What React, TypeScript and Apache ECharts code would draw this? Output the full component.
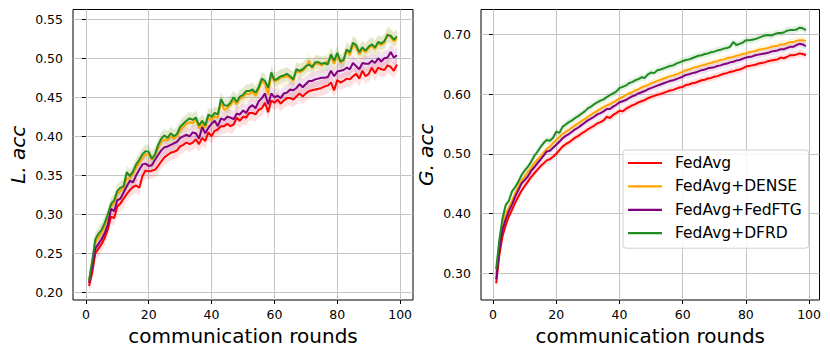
import React, { useEffect, useRef } from "react";
import * as echarts from "echarts";

const rounds: number[] = Array.from({ length: 99 }, (_, i) => i + 1);
const methodNames = ["FedAvg", "FedAvg+DENSE", "FedAvg+FedFTG", "FedAvg+DFRD"];
const methodColors = ["#ff0000", "#ffa500", "#800080", "#228b22"];
const xTicks = [0, 20, 40, 60, 80, 100];
const localTicks = [0.2, 0.25, 0.3, 0.35, 0.4, 0.45, 0.5, 0.55];
const globalTicks = [0.3, 0.4, 0.5, 0.6, 0.7];

// L. acc
const localFedAvg = [
  0.208, 0.225, 0.250, 0.256, 0.262, 0.270, 0.281, 0.297, 0.295, 0.310,
  0.314, 0.320, 0.326, 0.331, 0.335, 0.337, 0.334, 0.349, 0.356, 0.355,
  0.356, 0.357, 0.362, 0.368, 0.373, 0.376, 0.379, 0.380, 0.382, 0.387,
  0.389, 0.392, 0.390, 0.392, 0.396, 0.390, 0.398, 0.394, 0.405, 0.400,
  0.407, 0.409, 0.413, 0.413, 0.416, 0.413, 0.415, 0.424, 0.420, 0.425,
  0.424, 0.430, 0.430, 0.428, 0.434, 0.436, 0.443, 0.431, 0.446, 0.443,
  0.447, 0.442, 0.446, 0.449, 0.449, 0.447, 0.451, 0.455, 0.451, 0.455,
  0.458, 0.459, 0.460, 0.461, 0.462, 0.464, 0.465, 0.469, 0.459, 0.472,
  0.469, 0.471, 0.474, 0.473, 0.477, 0.480, 0.474, 0.484, 0.477, 0.480,
  0.488, 0.481, 0.488, 0.486, 0.485, 0.491, 0.489, 0.484, 0.492,
];
const localDense = [
  0.214, 0.238, 0.264, 0.270, 0.276, 0.285, 0.296, 0.310, 0.314, 0.326,
  0.330, 0.333, 0.346, 0.346, 0.352, 0.360, 0.366, 0.372, 0.377, 0.376,
  0.370, 0.375, 0.385, 0.393, 0.396, 0.395, 0.400, 0.397, 0.400, 0.408,
  0.412, 0.416, 0.418, 0.417, 0.421, 0.410, 0.416, 0.411, 0.424, 0.421,
  0.426, 0.424, 0.444, 0.434, 0.436, 0.440, 0.446, 0.441, 0.448, 0.450,
  0.455, 0.454, 0.457, 0.452, 0.460, 0.470, 0.468, 0.453, 0.479, 0.470,
  0.472, 0.475, 0.476, 0.477, 0.475, 0.471, 0.484, 0.482, 0.484, 0.488,
  0.497, 0.487, 0.493, 0.493, 0.491, 0.494, 0.496, 0.502, 0.493, 0.505,
  0.494, 0.497, 0.512, 0.504, 0.517, 0.514, 0.505, 0.511, 0.508, 0.513,
  0.516, 0.512, 0.519, 0.517, 0.520, 0.531, 0.527, 0.522, 0.525,
];
const localFedFTG = [
  0.212, 0.232, 0.256, 0.262, 0.268, 0.276, 0.287, 0.307, 0.304, 0.318,
  0.320, 0.328, 0.336, 0.343, 0.341, 0.350, 0.357, 0.364, 0.365, 0.362,
  0.363, 0.370, 0.376, 0.382, 0.386, 0.387, 0.389, 0.391, 0.393, 0.398,
  0.400, 0.402, 0.400, 0.405, 0.404, 0.397, 0.412, 0.404, 0.411, 0.416,
  0.420, 0.413, 0.423, 0.421, 0.425, 0.424, 0.422, 0.429, 0.428, 0.433,
  0.430, 0.437, 0.440, 0.436, 0.445, 0.449, 0.455, 0.441, 0.455, 0.450,
  0.452, 0.449, 0.455, 0.456, 0.460, 0.459, 0.462, 0.467, 0.463, 0.467,
  0.471, 0.471, 0.473, 0.474, 0.475, 0.475, 0.476, 0.484, 0.477, 0.483,
  0.484, 0.485, 0.488, 0.486, 0.494, 0.490, 0.486, 0.494, 0.493, 0.493,
  0.497, 0.494, 0.500, 0.496, 0.500, 0.501, 0.508, 0.501, 0.504,
];
const localDFRD = [
  0.215, 0.240, 0.268, 0.275, 0.280, 0.289, 0.300, 0.313, 0.318, 0.330,
  0.334, 0.336, 0.354, 0.349, 0.355, 0.364, 0.370, 0.377, 0.381, 0.380,
  0.371, 0.377, 0.389, 0.397, 0.401, 0.398, 0.404, 0.400, 0.403, 0.412,
  0.416, 0.420, 0.423, 0.421, 0.424, 0.414, 0.420, 0.414, 0.428, 0.425,
  0.430, 0.428, 0.448, 0.440, 0.439, 0.443, 0.450, 0.444, 0.451, 0.453,
  0.458, 0.458, 0.460, 0.456, 0.463, 0.474, 0.471, 0.462, 0.482, 0.472,
  0.474, 0.477, 0.478, 0.480, 0.477, 0.473, 0.486, 0.484, 0.486, 0.490,
  0.492, 0.489, 0.495, 0.495, 0.493, 0.494, 0.492, 0.505, 0.497, 0.507,
  0.496, 0.498, 0.511, 0.508, 0.520, 0.517, 0.508, 0.514, 0.510, 0.515,
  0.518, 0.514, 0.521, 0.519, 0.522, 0.530, 0.529, 0.524, 0.528,
];
const localStd = [0.01, 0.011, 0.01, 0.009];

// G. acc
const globalFedAvg = [
  0.283, 0.330, 0.362, 0.380, 0.395, 0.406, 0.418, 0.428, 0.438, 0.446,
  0.453, 0.461, 0.467, 0.473, 0.479, 0.484, 0.489, 0.491, 0.495, 0.500,
  0.506, 0.512, 0.516, 0.519, 0.523, 0.527, 0.530, 0.534, 0.537, 0.541,
  0.544, 0.547, 0.551, 0.553, 0.556, 0.562, 0.560, 0.565, 0.568, 0.572,
  0.571, 0.575, 0.578, 0.581, 0.583, 0.586, 0.588, 0.590, 0.593, 0.595,
  0.597, 0.599, 0.600, 0.602, 0.604, 0.606, 0.607, 0.609, 0.611, 0.612,
  0.615, 0.616, 0.618, 0.619, 0.621, 0.623, 0.624, 0.626, 0.627, 0.629,
  0.630, 0.632, 0.634, 0.635, 0.637, 0.638, 0.640, 0.641, 0.643, 0.646,
  0.647, 0.648, 0.649, 0.651, 0.652, 0.653, 0.655, 0.656, 0.657, 0.658,
  0.661, 0.660, 0.662, 0.665, 0.665, 0.666, 0.668, 0.667, 0.665,
];
const globalDense = [
  0.300, 0.350, 0.381, 0.400, 0.410, 0.421, 0.434, 0.445, 0.455, 0.462,
  0.470, 0.476, 0.484, 0.490, 0.495, 0.502, 0.508, 0.512, 0.518, 0.523,
  0.528, 0.533, 0.537, 0.540, 0.544, 0.548, 0.551, 0.555, 0.558, 0.562,
  0.565, 0.569, 0.572, 0.575, 0.578, 0.581, 0.583, 0.586, 0.589, 0.593,
  0.595, 0.598, 0.601, 0.603, 0.606, 0.608, 0.611, 0.613, 0.615, 0.618,
  0.620, 0.622, 0.624, 0.626, 0.628, 0.630, 0.631, 0.633, 0.635, 0.637,
  0.640, 0.641, 0.643, 0.645, 0.646, 0.648, 0.649, 0.651, 0.652, 0.654,
  0.655, 0.657, 0.658, 0.660, 0.661, 0.662, 0.664, 0.665, 0.667, 0.668,
  0.670, 0.671, 0.672, 0.674, 0.675, 0.676, 0.677, 0.679, 0.680, 0.681,
  0.683, 0.683, 0.685, 0.687, 0.687, 0.689, 0.690, 0.690, 0.689,
];
const globalFedFTG = [
  0.290, 0.340, 0.373, 0.390, 0.404, 0.415, 0.428, 0.439, 0.450, 0.456,
  0.462, 0.471, 0.477, 0.484, 0.490, 0.497, 0.504, 0.505, 0.510, 0.515,
  0.520, 0.526, 0.530, 0.533, 0.537, 0.541, 0.544, 0.548, 0.552, 0.556,
  0.559, 0.562, 0.566, 0.568, 0.571, 0.575, 0.575, 0.579, 0.582, 0.586,
  0.588, 0.590, 0.593, 0.596, 0.598, 0.601, 0.603, 0.605, 0.608, 0.610,
  0.612, 0.614, 0.616, 0.618, 0.620, 0.622, 0.623, 0.625, 0.627, 0.629,
  0.632, 0.633, 0.635, 0.636, 0.638, 0.640, 0.641, 0.643, 0.644, 0.645,
  0.647, 0.648, 0.650, 0.651, 0.653, 0.654, 0.656, 0.657, 0.659, 0.661,
  0.662, 0.663, 0.665, 0.666, 0.667, 0.668, 0.669, 0.671, 0.672, 0.673,
  0.675, 0.675, 0.677, 0.679, 0.679, 0.682, 0.684, 0.683, 0.680,
];
const globalDFRD = [
  0.307, 0.356, 0.392, 0.414, 0.421, 0.437, 0.444, 0.453, 0.464, 0.472,
  0.478, 0.486, 0.496, 0.503, 0.511, 0.518, 0.523, 0.522, 0.527, 0.537,
  0.535, 0.545, 0.549, 0.553, 0.556, 0.560, 0.563, 0.567, 0.571, 0.576,
  0.579, 0.583, 0.586, 0.589, 0.591, 0.595, 0.598, 0.601, 0.604, 0.610,
  0.612, 0.614, 0.618, 0.620, 0.623, 0.625, 0.628, 0.627, 0.633, 0.636,
  0.635, 0.640, 0.641, 0.643, 0.645, 0.647, 0.648, 0.651, 0.653, 0.655,
  0.657, 0.658, 0.660, 0.662, 0.664, 0.665, 0.667, 0.668, 0.670, 0.671,
  0.673, 0.674, 0.676, 0.677, 0.679, 0.687, 0.682, 0.684, 0.686, 0.690,
  0.690, 0.691, 0.692, 0.694, 0.696, 0.698, 0.699, 0.698, 0.700, 0.702,
  0.702, 0.703, 0.706, 0.707, 0.707, 0.708, 0.711, 0.710, 0.707,
];
const globalStd = [0.006, 0.006, 0.006, 0.006];

const localSeries = [localFedAvg, localDense, localFedFTG, localDFRD];
const globalSeries = [globalFedAvg, globalDense, globalFedFTG, globalDFRD];

const FONT = "DejaVu Sans";

function buildSeries(all: number[][], stds: number[], axisIdx: number) {
  const out: any[] = [];
  all.forEach((vals, i) => {
    const upper = rounds.map((r, k) => [r, vals[k] + stds[i]]);
    const lower = rounds.map((r, k) => [r, vals[k] - stds[i]]);
    out.push({
      type: "custom",
      name: `band-${axisIdx}-${i}`,
      coordinateSystem: "cartesian2d",
      xAxisIndex: axisIdx,
      yAxisIndex: axisIdx,
      silent: true,
      clip: true,
      data: [[rounds[0], vals[0]]],
      renderItem: (_params: any, api: any) => {
        const pts: number[][] = [];
        upper.forEach((p) => pts.push(api.coord(p)));
        for (let k = lower.length - 1; k >= 0; k--) pts.push(api.coord(lower[k]));
        return {
          type: "polygon",
          shape: { points: pts },
          style: { fill: methodColors[i], opacity: 0.12 },
        };
      },
      z: 1,
    });
  });
  all.forEach((vals, i) => {
    out.push({
      type: "line",
      name: methodNames[i],
      xAxisIndex: axisIdx,
      yAxisIndex: axisIdx,
      symbol: "none",
      color: methodColors[i],
      lineStyle: { color: methodColors[i], width: 2 },
      data: rounds.map((r, k) => [r, vals[k]]),
      z: 3 + i,
    });
  });
  return out;
}

function xAxis(gridIndex: number, min: number, max: number) {
  return {
    type: "value",
    gridIndex,
    min,
    max,
    name: "communication rounds",
    nameLocation: "middle",
    nameGap: 25,
    nameTextStyle: { fontFamily: FONT, fontSize: 20, color: "#000" },
    axisLine: { show: false },
    axisTick: { show: true, length: 4, customValues: xTicks, lineStyle: { color: "#000", width: 1 } },
    axisLabel: {
      customValues: xTicks,
      fontFamily: FONT,
      fontSize: 12.5,
      color: "#000",
      margin: 8,
      formatter: (v: number) => String(Math.round(v)),
    },
    splitLine: { show: true, lineStyle: { color: "#c4c4c4", width: 1 } },
  };
}

function yAxis(gridIndex: number, min: number, max: number, ticks: number[], name: string) {
  return {
    type: "value",
    gridIndex,
    min,
    max,
    name,
    nameLocation: "middle",
    nameGap: 45,
    nameTextStyle: { fontFamily: FONT, fontSize: 20, fontStyle: "italic", color: "#000" },
    axisLine: { show: false },
    axisTick: { show: true, length: 4, customValues: ticks, lineStyle: { color: "#000", width: 1 } },
    axisLabel: {
      customValues: ticks,
      fontFamily: FONT,
      fontSize: 12.5,
      color: "#000",
      margin: 10,
      formatter: (v: number) => v.toFixed(2),
    },
    splitLine: { show: true, lineStyle: { color: "#c4c4c4", width: 1 } },
  };
}

export default function App() {
  const ref = useRef<HTMLDivElement>(null);
  useEffect(() => {
    document.body.style.margin = "0";
    const chart = echarts.init(ref.current!, null, { renderer: "svg" });
    chart.setOption({
      animation: false,
      backgroundColor: "#fff",
      grid: [
        { left: 73, top: 9.5, width: 340, height: 290.5, show: true, borderColor: "#000", borderWidth: 1, backgroundColor: "transparent" },
        { left: 481, top: 9.5, width: 338.5, height: 290.5, show: true, borderColor: "#000", borderWidth: 1, backgroundColor: "transparent" },
      ],
      xAxis: [xAxis(0, -4.1, 104.1), xAxis(1, -3.8, 103.3)],
      yAxis: [
        yAxis(0, 0.1901, 0.5626, localTicks, "L. acc"),
        yAxis(1, 0.2553, 0.7415, globalTicks, "G. acc"),
      ],
      legend: {
        data: methodNames,
        orient: "vertical",
        left: 623,
        top: 150,
        padding: [4, 7, 6, 5],
        itemGap: 5.4,
        itemWidth: 34,
        itemHeight: 2.2,
        icon: "rect",
        backgroundColor: "rgba(255,255,255,0.85)",
        borderColor: "#d0d0d0",
        borderWidth: 1,
        borderRadius: 3,
        textStyle: { fontFamily: FONT, fontSize: 15.5, color: "#000", lineHeight: 18, padding: [0, 0, 0, 8] },
      },
      series: [
        ...buildSeries(localSeries, localStd, 0),
        ...buildSeries(globalSeries, globalStd, 1),
      ],
    });
    return () => chart.dispose();
  }, []);
  return <div ref={ref} style={{ position: "fixed", left: 0, top: 0, width: 830, height: 357 }} />;
}
